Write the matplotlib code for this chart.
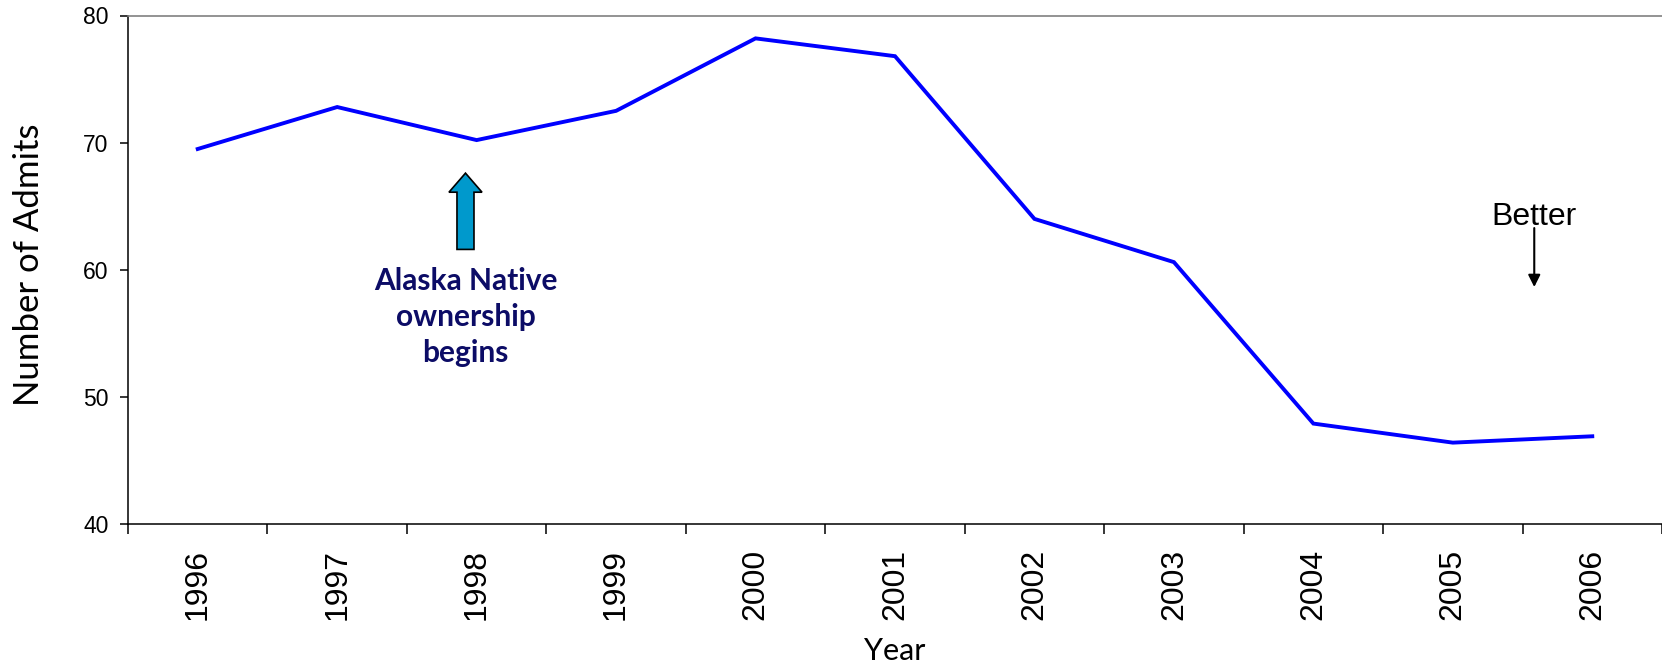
import matplotlib
matplotlib.use("Agg")
import matplotlib.pyplot as plt
from matplotlib.patches import FancyArrow

years = ["1996", "1997", "1998", "1999", "2000", "2001",
         "2002", "2003", "2004", "2005", "2006"]
admits = [69.5, 72.8, 70.2, 72.5, 78.2, 76.8, 64.0, 60.6, 47.9, 46.4, 46.9]
y_ticks = [40, 50, 60, 70, 80]

fig = plt.figure(figsize=(16.62, 6.67), dpi=100)
ax = fig.add_axes([128 / 1662, 1 - 524 / 667, 1 - 128 / 1662, (524 - 15.5) / 667])

x = list(range(len(years)))
ax.plot(x, admits, color="#0000ff", lw=2.8, solid_joinstyle="miter")

ax.set_xlim(-0.5, len(years) - 0.5)
ax.set_ylim(40, 80)
ax.set_yticks(y_ticks)
ax.set_yticklabels([str(v) for v in y_ticks], fontsize=16.5, family="Liberation Sans")

# boundaries get the tick marks, the years sit between them
ax.set_xticks([i - 0.5 for i in range(len(years) + 1)])
ax.set_xticklabels([])
ax.set_xticks(x, minor=True)
ax.set_xticklabels(years, minor=True, rotation=90, fontsize=23, family="Liberation Sans")
ax.tick_params(axis="x", which="major", direction="out", length=7, width=1.1)
ax.tick_params(axis="x", which="minor", length=0, pad=18)
ax.tick_params(axis="y", direction="out", length=6, width=1.1, pad=8)

for s in ["left", "bottom"]:
    ax.spines[s].set_linewidth(1.1)
ax.spines["top"].set_color("#808080")
ax.spines["top"].set_linewidth(1.2)
ax.spines["right"].set_visible(False)

fig.text(29 / 1662, 1 - 264.5 / 667, "Number of Admits", rotation=90,
         ha="center", va="center", fontsize=25, family="Lato")
fig.text(895 / 1662, 1 - 651 / 667, "Year", ha="center", va="center",
         fontsize=22, family="Lato")

# blue block arrow for the ownership change
arr = FancyArrow(1.92, 61.6, 0, 6.0, width=0.122, head_width=0.237,
                 head_length=1.5, length_includes_head=True,
                 facecolor="#0099cc", edgecolor="black", lw=1.2)
ax.add_patch(arr)
ax.text(1.92, 56.3, "Alaska Native\nownership\nbegins", ha="center", va="center",
        fontsize=21.5, fontweight="bold", family="Lato", color="#0c0c66", linespacing=1.36)

ax.annotate("", xy=(9.584, 58.64), xytext=(9.584, 63.28),
            arrowprops=dict(arrowstyle="-|>", color="black", lw=1.5, mutation_scale=18,
                            shrinkA=0, shrinkB=0))
ax.text(9.584, 63.5, "Better", ha="center", va="baseline", fontsize=23, family="Liberation Sans")

fig.savefig("out.png", dpi=100)
